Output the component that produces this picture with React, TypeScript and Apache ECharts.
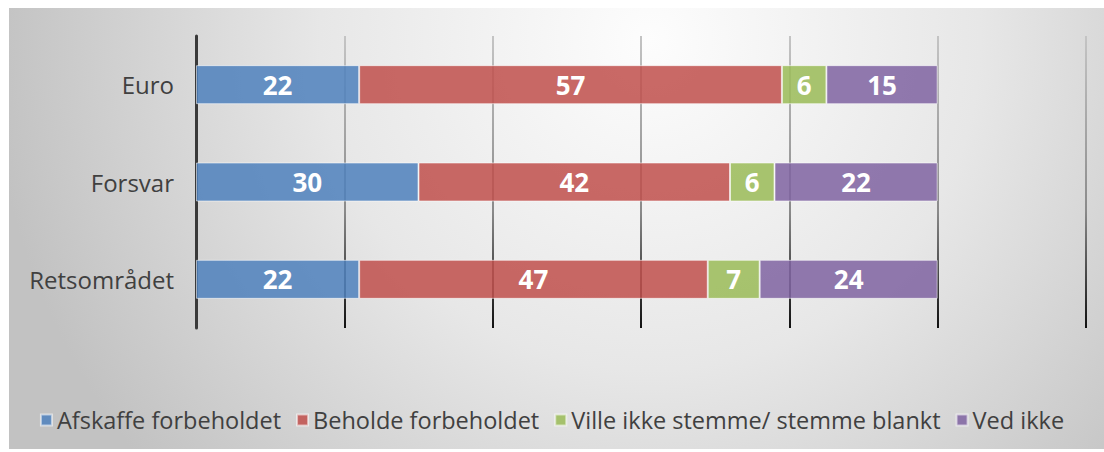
import React, { useEffect, useRef } from "react";
import * as echarts from "echarts";

const categories = ["Euro", "Forsvar", "Retsområdet"];
const seriesNames = [
  "Afskaffe forbeholdet",
  "Beholde forbeholdet",
  "Ville ikke stemme/ stemme blankt",
  "Ved ikke",
];
const afskaffe = [22, 30, 22];
const beholde = [57, 42, 47];
const villeIkke = [6, 6, 7];
const vedIkke = [15, 22, 24];
const seriesValues = [afskaffe, beholde, villeIkke, vedIkke];
const seriesColors = [
  "rgba(79,129,189,0.86)",
  "rgba(192,80,77,0.86)",
  "rgba(155,187,89,0.86)",
  "rgba(128,100,162,0.86)",
];
const axisMin = 0;
const axisMax = 120;
const axisStep = 20;

const W = 1104;
const H = 452;
const GRID_TOP = 36;
const GRID_BOTTOM_Y = 328;

export default function App() {
  const ref = useRef<HTMLDivElement>(null);
  useEffect(() => {
    if (!ref.current) return;
    const chart = echarts.init(ref.current, undefined, { renderer: "svg" });
    const fontFamily = "'Open Sans', 'DejaVu Sans', sans-serif";
    chart.setOption({
      animation: false,
      backgroundColor: "#ffffff",
      textStyle: { fontFamily },
      graphic: [
        {
          type: "rect",
          z: -10,
          silent: true,
          shape: { x: 9, y: 8, width: W - 9, height: 441 },
          style: {
            fill: new echarts.graphic.RadialGradient(
              650,
              40,
              660,
              [
                { offset: 0, color: "#fdfdfd" },
                { offset: 0.5, color: "#e7e7e7" },
                { offset: 1, color: "#c2c2c2" },
              ],
              true
            ),
          },
        },
      ],
      grid: {
        left: 196,
        right: 18,
        top: GRID_TOP,
        bottom: H - GRID_BOTTOM_Y,
        containLabel: false,
      },
      legend: {
        top: 403,
        left: "center",
        icon: "rect",
        itemWidth: 11,
        itemHeight: 11,
        itemGap: 15,
        textStyle: { fontSize: 23.5, color: "#404040", fontFamily },
        data: seriesNames,
      },
      xAxis: {
        type: "value",
        min: axisMin,
        max: axisMax,
        interval: axisStep,
        axisLabel: { show: false },
        axisLine: { show: false },
        axisTick: { show: false },
        splitLine: {
          show: true,
          lineStyle: {
            width: 2,
            color: new echarts.graphic.LinearGradient(
              0,
              GRID_TOP,
              0,
              GRID_BOTTOM_Y,
              [
                { offset: 0, color: "#c4c4c4" },
                { offset: 0.6, color: "#8a8a8a" },
                { offset: 1, color: "#111111" },
              ],
              true
            ),
          },
        },
      },
      yAxis: {
        type: "category",
        inverse: true,
        data: categories,
        axisTick: { show: false },
        axisLine: { show: true, lineStyle: { color: "#3a3a3a", width: 3 } },
        axisLabel: { fontSize: 24, color: "#404040", margin: 22, fontFamily },
      },
      series: seriesNames.map((name, i) => ({
        name,
        type: "bar",
        stack: "total",
        barWidth: 39,
        data: seriesValues[i],
        itemStyle: {
          color: seriesColors[i],
          borderColor: "rgba(255,255,255,0.55)",
          borderWidth: 1,
        },
        label: {
          show: true,
          position: "inside",
          color: "#ffffff",
          fontSize: 26,
          fontWeight: "bold",
          fontFamily,
        },
      })),
    });
    return () => chart.dispose();
  }, []);
  return (
    <div
      ref={ref}
      style={{ position: "fixed", left: 0, top: 0, width: W, height: H }}
    />
  );
}
